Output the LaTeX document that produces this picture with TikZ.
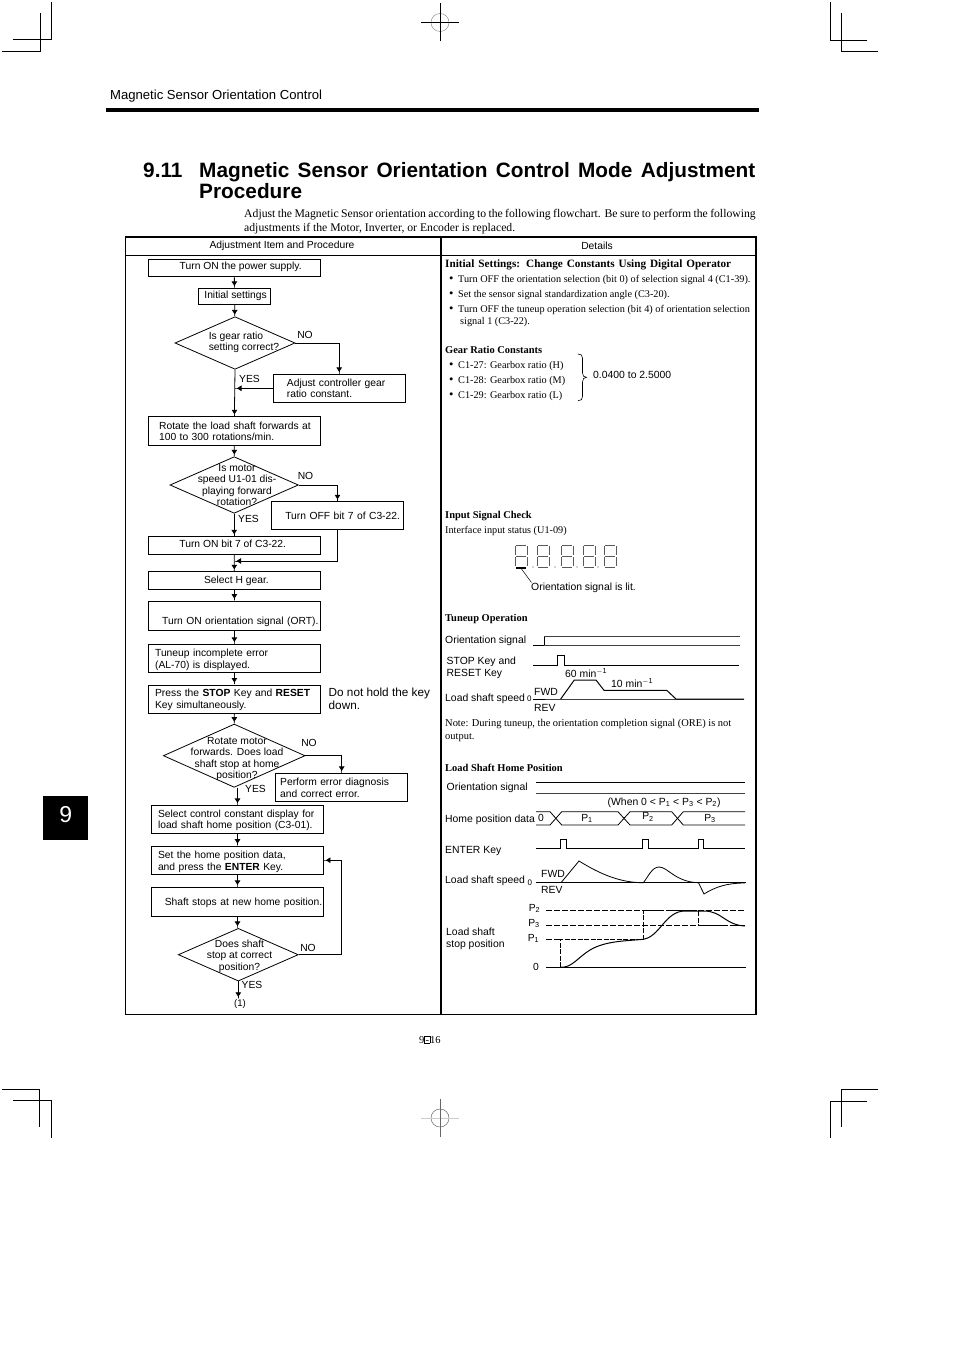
\documentclass[tikz,border=0pt]{standalone}
\usepackage{fontspec}
\setmainfont{Liberation Serif}
\setsansfont{Liberation Sans}
\usepackage{amsmath}
\usetikzlibrary{positioning, arrows.meta, shapes.geometric, decorations.pathreplacing}
\newcommand{\flowfont}{\fontsize{10.3}{11.4}\selectfont\sffamily}
\newcommand{\labfont}{\fontsize{10.4}{11.4}\selectfont\sffamily}
\newcommand{\detfont}{\fontsize{10.25}{11.4}\selectfont\rmfamily}
\newcommand{\titlefont}{\fontsize{20.8}{22}\selectfont\sffamily\bfseries}
\newcommand{\introfont}{\fontsize{11.7}{13}\selectfont\rmfamily}
\newcommand{\detbullet}{\hspace{3.8pt}\makebox[9.2pt][l]{\fontsize{12.5}{12}\selectfont\textbullet}}
\newcommand{\txtdown}[1]{\rule{0pt}{\dimexpr7.5pt+2\dimexpr#1pt\relax\relax}}
\newcommand{\txtup}[1]{\rule[-\dimexpr2.2pt+2\dimexpr#1pt\relax\relax]{0pt}{1pt}}
\newcommand{\sbs}[1]{\textsubscript{#1}}
\newcommand{\sps}[1]{\textsuperscript{#1}}
\tikzset{
  stepbox/.style={draw,line width=0.8,inner sep=0,minimum width=172,minimum height=28,font=\flowfont,align=center},
  decision/.style={draw,line width=0.8,diamond,inner sep=0,aspect=2},
  flowtext/.style={inner sep=0,font=\flowfont,align=center},
  lab/.style={inner sep=0,anchor=base west,font=\labfont},
  det/.style={inner sep=0,anchor=base west,font=\detfont},
  dethead/.style={det,font=\fontsize{10.45}{11.4}\selectfont\rmfamily\bfseries},
  flowline/.style={line width=0.8},
  flowarrow/.style={line width=0.8,-{Triangle[length=4.5,width=5.5]Rectangle[length=2,width=0.8]}},
  crop/.style={line width=0.8},
  signal/.style={line width=0.8},
  thinsignal/.style={line width=0.5,black!75},
  segment/.style={line width=0.4,black!65},
  tablerule/.style={line width=1.1}
}
\begin{document}
\begin{tikzpicture}[x=1pt,y=-1pt]
  \useasboundingbox (0,0) rectangle (954,1351);

  % Crop marks
  \draw[crop] (51.7,2) |- (13,39.5);
  \draw[crop] (40.7,13) |- (2,51.5);
  \draw[crop] (830.3,2) |- (867.3,40);
  \draw[crop] (841.3,13) |- (878.3,51.5);
  \draw[crop] (2,1089.3) -| (39.7,1126.7);
  \draw[crop] (13,1100.3) -| (51.7,1137.7);
  \draw[crop] (878.3,1089.3) -| (841.3,1126.7);
  \draw[crop] (867.3,1101) -| (830.3,1138);

  % Registration marks
  \draw[line width=0.4,black!50] (440,22.5) circle (9);
  \draw[crop] (421,22.5) -- (459,22.5) (440,3) -- (440,41);
  \draw[line width=0.4,black!70] (440,1118) circle (9);
  \draw[line width=0.8,black!20] (421,1118) -- (459,1118);
  \draw[line width=0.5,black!60] (440,1099) -- (440,1137);

  % Page head
  \node[lab,font=\fontsize{13.1}{14}\selectfont\sffamily] (pagehead) at (110,99.5) {Magnetic Sensor Orientation Control};
  \fill (106,107.7) rectangle (758.5,111.7);
  \node[lab,font=\titlefont] (secnum) at (143,177.5) {9.11};
  \node[lab,font=\titlefont] (title1) at (199,177.5) {\makebox[556pt][s]{Magnetic Sensor Orientation Control Mode Adjustment}};
  \node[lab,font=\titlefont] (title2) at (199,198.5) {Procedure};
  \node[det,font=\introfont] (intro1) at (244,218) {\makebox[511.5pt][s]{Adjust the Magnetic Sensor orientation according to the following flowchart. Be sure to perform the following}};
  \node[det,font=\introfont] (intro2) at (244,231) {adjustments if the Motor, Inverter, or Encoder is replaced.};

  % Side tab
  \node[fill=black,text=white,inner sep=0,minimum width=45,minimum height=44.5,font=\fontsize{23}{25}\selectfont\sffamily] (tab) at (65.8,817.8) {\txtup{2}9};

  % Table
  \draw[tablerule] (125.5,237) rectangle (756,1014.5);
  \draw[tablerule] (125.5,255.5) -- (756,255.5);
  \draw[tablerule] (441,237) -- (441,1014.5);
  \node[flowtext,font=\fontsize{10.3}{11}\selectfont\sffamily] (headleft) at (282,245.5) {Adjustment Item and Procedure};
  \node[flowtext,font=\fontsize{10.3}{11}\selectfont\sffamily] (headright) at (597,245.5) {Details};

  % Flow steps, upper part
  \node[stepbox,minimum height=17.5] (power) at (234.2,267.7) {\txtup{1}\hspace*{13pt}Turn ON the power supply.};
  \node[stepbox,minimum width=72.5,minimum height=16] (initial) at (234.6,296.3) {\hspace*{2pt}Initial settings};
  \node[decision,minimum width=120,minimum height=52.6] (gearq) at (235,343) {};
  \node[flowtext,align=left] (gearqtext) at (244,342.5) {Is gear ratio\\setting correct?};
  \node[stepbox,minimum width=132,minimum height=28,align=left,inner xsep=13.7,text width=104.6] (adjust) at (339.2,388.3) {Adjust controller gear\\ratio constant.};
  \node[stepbox,minimum height=29,align=left,inner xsep=8,text width=156] (rotate) at (234.4,431.2) {\hspace*{2.7pt}Rotate the load shaft forwards at\\\hspace*{2.7pt}100 to 300 rotations/min.};
  \node[decision,minimum width=128.4,minimum height=56.6] (speedq) at (234.2,485) {};
  \node[flowtext] (speedqtext) at (237,485.2) {Is motor\\speed U1-01 dis-\\playing forward\\rotation?};
  \node[stepbox,minimum width=131.6,minimum height=27.6,align=right,inner xsep=3.3,text width=125] (turnoff) at (337.5,515.5) {Turn OFF bit 7 of C3-22.};
  \node[stepbox,minimum height=17.6] (turnon) at (234.2,545.5) {\txtup{1}\hspace*{-3pt}Turn ON bit 7 of C3-22.};
  \coordinate (hgearjoin) at (234.5,561);
  \node[stepbox,minimum height=17.6] (hgear) at (234.4,580.5) {\hspace*{4pt}Select H gear.};
  \node[stepbox,minimum height=29.3,align=right,inner xsep=2,text width=168] (orient) at (234.4,615.7) {\txtdown{6.5}Turn ON orientation signal (ORT).};
  \node[stepbox,minimum height=28,align=left,inner xsep=6.7,text width=158.6] (tuneup) at (234.4,658.3) {\txtdown{1.5}Tuneup incomplete error\\(AL-70) is displayed.};
  \node[stepbox,minimum height=28.7,align=left,inner xsep=6.7,text width=158.6] (press) at (234.4,699.3) {\txtdown{0.5}Press the \textbf{STOP} Key and \textbf{RESET}\\Key simultaneously.};
  \node[lab,font=\fontsize{11.75}{13}\selectfont\sffamily] (dontholda) at (328.5,696) {Do not hold the key};
  \node[lab,font=\fontsize{11.75}{13}\selectfont\sffamily] (dontholdb) at (328.5,709) {down.};

  % Flow steps, lower part
  \node[decision,minimum width=141.7,minimum height=63.3] (homeq) at (234.2,755.7) {};
  \node[flowtext] (homeqtext) at (237,759) {Rotate motor\\forwards. Does load\\shaft stop at home\\position?};
  \node[stepbox,minimum width=132,minimum height=28,align=left,inner xsep=4.5,text width=123] (diagnose) at (341.7,787.3) {\txtdown{0.5}Perform error diagnosis\\and correct error.};
  \node[stepbox,minimum height=28,align=left,inner xsep=6.5,text width=159] (selectc) at (237.5,819.3) {\txtdown{1}Select control constant display for\\load shaft home position (C3-01).};
  \node[stepbox,minimum height=28.3,align=left,inner xsep=6.5,text width=159] (sethome) at (237.5,860.2) {\txtdown{1.5}Set the home position data,\\and press the \textbf{ENTER} Key.};
  \node[stepbox,minimum height=29,align=right,inner xsep=1.3,text width=169.4] (shaftstops) at (237.5,901.8) {\txtdown{1.5}Shaft stops at new home position.};
  \node[decision,minimum width=120,minimum height=52.7] (correctq) at (238.3,954.7) {};
  \node[flowtext] (correctqtext) at (239.5,956.2) {Does shaft\\stop at correct\\position?};
  \node[flowtext,font=\fontsize{9.6}{11}\selectfont\sffamily] (endmark) at (240,1004.5) {(1)};
  \coordinate (loopcorner) at (341.7,954.7);

  % Branch labels
  \node[flowtext] (gearno) at (305,335) {NO};
  \node[flowtext] (gearyes) at (249.5,378.5) {YES};
  \node[flowtext] (speedno) at (305.5,476) {NO};
  \node[flowtext] (speedyes) at (248.5,519) {YES};
  \node[flowtext] (homeno) at (309,743) {NO};
  \node[flowtext] (homeyes) at (255.5,788.5) {YES};
  \node[flowtext] (correctno) at (308,947.5) {NO};
  \node[flowtext] (correctyes) at (252,984.5) {YES};

  % Connectors
  \draw[flowarrow] (power) -- (initial);
  \draw[flowarrow] (initial) -- (gearq);
  \draw[flowarrow] (gearq.south) -- (rotate.north);
  \draw[flowarrow] (gearq.east) -| (adjust.north);
  \draw[flowarrow] (adjust.west) -- (adjust.west -| gearq.south);
  \draw[flowarrow] (rotate) -- (speedq);
  \draw[flowarrow] (speedq) -- (turnon);
  \draw[flowarrow] (speedq.east) -| (turnoff.north);
  \draw[flowarrow] (turnoff.south) |- (hgearjoin);
  \draw[flowarrow] (turnon) -- (hgear);
  \draw[flowarrow] (hgear) -- (orient);
  \draw[flowarrow] (orient) -- (tuneup);
  \draw[flowarrow] (tuneup) -- (press);
  \draw[flowarrow] (press) -- (homeq);
  \draw[flowarrow] (homeq.east) -| (diagnose.north);
  \draw[flowarrow] (homeq.south -| selectc.north) -- (selectc.north);
  \draw[flowarrow] (selectc) -- (sethome);
  \draw[flowarrow] (sethome) -- (shaftstops);
  \draw[flowarrow] (shaftstops.south) -- (shaftstops.south |- correctq.north);
  \draw[flowline] (correctq.east) -- (loopcorner);
  \draw[flowarrow] (loopcorner) |- (sethome.east);
  \draw[flowarrow,shorten >=1] (correctq.south) -- (correctq.south |- endmark.north);

  % Initial settings
  \node[dethead,font=\fontsize{11.2}{12}\selectfont\rmfamily\bfseries] (inithead) at (445,267) {\makebox[286pt][s]{Initial Settings: Change Constants Using Digital Operator}};
  \node[det] (init1) at (445,282) {\detbullet Turn OFF the orientation selection (bit 0) of selection signal 4 (C1-39).};
  \node[det] (init2) at (445,297) {\detbullet Set the sensor signal standardization angle (C3-20).};
  \node[det] (init3) at (445,312) {\detbullet Turn OFF the tuneup operation selection (bit 4) of orientation selection};
  \node[det] (init4) at (460,324) {signal 1 (C3-22).};

  % Gear ratio constants
  \node[dethead] (gearhead) at (445,353) {Gear Ratio Constants};
  \node[det] (gear1) at (445,368) {\detbullet C1-27: Gearbox ratio (H)};
  \node[det] (gear2) at (445,383) {\detbullet C1-28: Gearbox ratio (M)};
  \node[det] (gear3) at (445,398) {\detbullet C1-29: Gearbox ratio (L)};
  \draw[line width=0.6] (578,354) .. controls (581,354) and (582.5,355) .. (582.5,358) -- (582.5,373) .. controls (582.5,376) and (584,377.3) .. (586.5,377.3) .. controls (584,377.3) and (582.5,379) .. (582.5,382) -- (582.5,396.5) .. controls (582.5,399.5) and (581,400.7) .. (578,400.7);
  \node[lab] (gearrange) at (593,378) {0.0400 to 2.5000};

  % Input signal check
  \node[dethead] (inputhead) at (445,518) {Input Signal Check};
  \node[det] (inputsub) at (445,533) {Interface input status (U1-09)};
  \foreach \dx in {514,535.7,560,581.7,602.7} {
    \draw[segment] (\dx+2,545) -- (\dx+12,545) (\dx+2,556) -- (\dx+12,556) (\dx+2,567) -- (\dx+12,567);
    \draw[segment] (\dx+1,546) -- (\dx+1,555) (\dx+1,557) -- (\dx+1,566) (\dx+13,546) -- (\dx+13,555) (\dx+13,557) -- (\dx+13,566);
  }
  \foreach \dx in {533,555,577,598} \fill[black!70] (\dx,567) circle (0.7);
  \draw[line width=1.4] (516,568) -- (526,568);
  \node[lab] (litlabel) at (531,590.5) {Orientation signal is lit.};
  \coordinate (litend) at (531.5,582.5);
  \draw[line width=0.5] (521.5,569) -- (litend);

  % Tuneup operation
  \node[dethead] (tunehead) at (445,621) {Tuneup Operation};
  \node[lab] (t1label) at (445,643) {Orientation signal};
  \draw[signal] (533,645) -- (544,645) -- (544,636);
  \draw[thinsignal] (544,636) -- (740,636) (544,645) -- (740,645);
  \node[lab] (t2labela) at (446.5,664) {STOP Key and};
  \node[lab] (t2labelb) at (446.5,676) {RESET Key};
  \draw[signal] (533,665) -- (557.7,665) -- (557.7,655.7) -- (564,655.7) -- (564,665) -- (739,665);
  \node[lab] (t3label) at (445,701) {Load shaft speed};
  \node[lab,font=\fontsize{8}{9}\selectfont\sffamily] (t3zero) at (527,701.5) {0};
  \node[lab] (t3fwd) at (534,695) {FWD};
  \node[lab] (t3rev) at (534,711) {REV};
  \node[lab] (t3high) at (565,677.5) {60 min\sps{$-$1}};
  \node[lab] (t3low) at (611,687.5) {10 min\sps{$-$1}};
  \draw[thinsignal] (533,699) -- (744,699);
  \draw[line width=1] (533,699) -- (545,699);
  \draw[line width=1] (560.7,699) -- (574.3,680) -- (596,680) -- (604,690.3) -- (666.7,690.3) -- (676,699) -- (744,699);
  \node[det,font=\fontsize{10.45}{11.4}\selectfont\rmfamily] (note1) at (445,726) {\makebox[286pt][s]{Note: During tuneup, the orientation completion signal (ORE) is not}};
  \node[det,font=\fontsize{10.45}{11.4}\selectfont\rmfamily] (note2) at (445,739) {output.};

  % Load shaft home position
  \node[dethead] (homehead) at (445,771) {Load Shaft Home Position};
  \node[lab] (h1label) at (446.5,790) {Orientation signal};
  \draw[signal] (536,782.7) -- (745,782.7);
  \draw[thinsignal] (536,793.3) -- (745,793.3);
  \node[lab] (whenlabel) at (607.5,805) {(When 0 < P\sbs{1} < P\sbs{3} < P\sbs{2})};
  \node[lab] (h2label) at (445,822) {Home position data};
  \draw[signal] (536,811.7) -- (550,811.7) -- (561.7,825) -- (618,825) -- (630,811.7) -- (671.7,811.7) -- (683.3,825) -- (745,825);
  \draw[signal] (536,825) -- (550,825) -- (561.7,811.7) -- (618,811.7) -- (630,825) -- (671.7,825) -- (683.3,811.7) -- (745,811.7);
  \node[flowtext] (datazero) at (541,817.5) {0};
  \node[flowtext] (dataone) at (587,818.5) {P\sbs{1}};
  \node[flowtext] (datatwo) at (648,817) {P\sbs{2}};
  \node[flowtext] (datathree) at (710,818.5) {P\sbs{3}};
  \node[lab] (h3label) at (445,853) {ENTER Key};
  \draw[signal] (536,848.3) -- (560,848.3) -- (560,839.3) -- (566,839.3) -- (566,848.3) -- (642.7,848.3) -- (642.7,839.3) -- (648.3,839.3) -- (648.3,848.3) -- (698.3,848.3) -- (698.3,839.3) -- (703.7,839.3) -- (703.7,848.3) -- (745,848.3);
  \node[lab] (h4label) at (445,883) {Load shaft speed};
  \node[lab,font=\fontsize{8}{9}\selectfont\sffamily] (h4zero) at (527.5,885) {0};
  \node[lab] (h4fwd) at (541,877) {FWD};
  \node[lab] (h4rev) at (541,893) {REV};
  \draw[line width=0.5] (536,882.7) -- (746,882.7);
  \draw[signal] (561,882.7) -- (579,861) .. controls (600,874) and (620,882.7) .. (643.3,882.7) .. controls (648,877) and (652,867) .. (659,867) .. controls (668,867) and (675,882) .. (698.5,882.7);
  \draw[signal] (698.5,882.7) -- (704,894) .. controls (715,887) and (727,883) .. (745,883);

  % Load shaft stop position
  \node[lab] (h5labela) at (446,935) {Load shaft};
  \node[lab] (h5labelb) at (446,947) {stop position};
  \node[flowtext] (stoptwo) at (534.5,908.5) {P\sbs{2}};
  \node[flowtext] (stopthree) at (534,923.5) {P\sbs{3}};
  \node[flowtext] (stopone) at (533.5,938.5) {P\sbs{1}};
  \node[flowtext] (stopzero) at (536,966.5) {0};
  \draw[line width=0.5,dash pattern=on 6pt off 2pt] (546,910.7) -- (745,910.7) (546,925) -- (745,925);
  \draw[line width=0.5,dash pattern=on 6pt off 2pt] (546,939.3) -- (560,939.3);
  \draw[line width=0.7] (546,967.3) -- (746,967.3);
  \draw[line width=0.8,dash pattern=on 5pt off 1.5pt] (560,967.3) -- (560,939.3) -- (643,939.3) -- (643,910.7) -- (698,910.7) -- (698,925) -- (745,925);
  \draw[line width=1] (560,967.3) .. controls (572,968) and (577,958) .. (590,950) .. controls (605,941) and (625,941) .. (643,939.3) .. controls (660,937) and (665,911) .. (685,911) -- (704,911) .. controls (722,911) and (725,925) .. (745,926);

  % Page number
  \node[det,font=\fontsize{10.5}{11}\selectfont\rmfamily] (pagenum) at (419,1043) {9{\fboxsep=0pt\fboxrule=0.3pt\fbox{\rule{0pt}{7pt}\makebox[5pt]{-}}}16};
\end{tikzpicture}
\end{document}
